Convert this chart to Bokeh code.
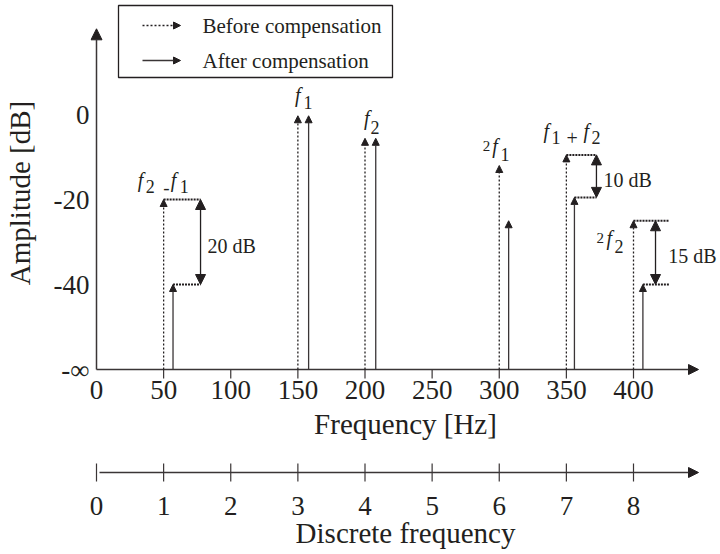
from bokeh.plotting import figure
from bokeh.models import Range1d, FixedTicker, Arrow, NormalHead, ColumnDataSource
from bokeh.layouts import column
from bokeh.embed import file_html
from bokeh.resources import INLINE
from bokeh.core.properties import value

# ---------------- data ----------------
before_freq = [50, 150, 200, 300, 350, 400]
before_db = [-20, -0.3, -5.6, -12, -9.5, -25]
after_freq = [57, 158, 208, 307, 356, 407]
after_db = [-40, -0.3, -5.6, -25, -19.5, -40]

freq_ticks = [0, 50, 100, 150, 200, 250, 300, 350, 400]
disc_ticks = [0, 1, 2, 3, 4, 5, 6, 7, 8]
amp_ticks = [-60, -40, -20, 0]
amp_tick_labels = ["-\u221e", "-40", "-20", "0"]

gap_index = [0, 4, 5]            # which peaks get a level-difference bracket
gap_labels = ["20 dB", "10 dB", "15 dB"]
gap_arrow_x = [77.5, 372.4, 416.4]
gap_line_end = [77.5, 372.4, 426.7]

legend_labels = ["Before compensation", "After compensation"]

# ---------------- geometry / style ----------------
FONT_NAME = "Liberation Serif"
FONT = value(FONT_NAME)
INK = "#231f20"
AXIS = "#3a3536"
PX_HZ = 1.3425   # px per Hz
PX_DB = 4.25     # px per dB
X0, YINF = 96.0, 369.0   # screen px of 0 Hz and of -inf (=-60 dB)
FLOOR = -60
LEFT, RIGHT = 90, 720    # frame edges (px)
TOP, BOTTOM = 0, 385


def hz(px):
    return (px - X0) / PX_HZ


def db(py):
    return (YINF - py) / PX_DB + FLOOR


def style_axis(ax, label, standoff, title_standoff):
    ax.axis_line_color = None
    ax.major_tick_line_color = None
    ax.minor_tick_line_color = None
    ax.major_tick_in = 0
    ax.major_tick_out = 0
    ax.minor_tick_in = 0
    ax.minor_tick_out = 0
    ax.major_label_standoff = standoff
    ax.major_label_text_font = FONT_NAME
    ax.major_label_text_font_size = "27px"
    ax.major_label_text_color = INK
    ax.axis_label = label
    ax.axis_label_text_font = FONT_NAME
    ax.axis_label_text_font_size = "29px"
    ax.axis_label_text_font_style = "normal"
    ax.axis_label_text_color = INK
    ax.axis_label_standoff = title_standoff


W = 720
H1 = 446
p = figure(width=W, height=H1, output_backend="svg", toolbar_location=None,
           x_range=Range1d(hz(LEFT), hz(RIGHT)), y_range=Range1d(db(BOTTOM), db(TOP)),
           min_border_left=LEFT, min_border_right=W - RIGHT, min_border_top=TOP,
           min_border_bottom=H1 - BOTTOM)
p.outline_line_color = None
p.xgrid.visible = False
p.ygrid.visible = False

xa = p.xaxis[0]
xa.ticker = FixedTicker(ticks=freq_ticks)
style_axis(xa, "Frequency [Hz]", 380 - BOTTOM, 6)

ya = p.yaxis[0]
ya.ticker = FixedTicker(ticks=amp_ticks)
ya.major_label_overrides = {t: l for t, l in zip(amp_ticks, amp_tick_labels)}
style_axis(ya, "Amplitude [dB]", 1, 15)

# axis lines with arrow heads
p.add_layout(Arrow(x_start=0, y_start=FLOOR, x_end=0, y_end=db(28.3),
                   line_color=AXIS, line_width=1.5,
                   end=NormalHead(size=11, fill_color=INK, line_color=INK, line_width=1)))
p.add_layout(Arrow(x_start=0, y_start=FLOOR, x_end=hz(698), y_end=FLOOR,
                   line_color=AXIS, line_width=1.5,
                   end=NormalHead(size=10, fill_color=INK, line_color=INK, line_width=1)))
tick_src = ColumnDataSource(dict(x=freq_ticks[1:]))
p.segment(x0="x", x1="x", y0=FLOOR, y1=db(378), source=tick_src, line_color=AXIS, line_width=1.2)

# spectral lines
n = len(before_freq)
src_b = ColumnDataSource(dict(x=before_freq, y0=[FLOOR] * n, y1=before_db))
src_a = ColumnDataSource(dict(x=after_freq, y0=[FLOOR] * n, y1=after_db))
p.add_layout(Arrow(x_start="x", y_start="y0", x_end="x", y_end="y1", source=src_b,
                   line_color=INK, line_width=1.3, line_dash="2 2",
                   end=NormalHead(size=7, fill_color=INK, line_color=INK, line_width=1)))
p.add_layout(Arrow(x_start="x", y_start="y0", x_end="x", y_end="y1", source=src_a,
                   line_color=AXIS, line_width=1.3,
                   end=NormalHead(size=7, fill_color=INK, line_color=INK, line_width=1)))

# level-difference brackets
g_top = [before_db[i] for i in gap_index]
g_bot = [after_db[i] for i in gap_index]
g_xb = [before_freq[i] for i in gap_index]
g_xa = [after_freq[i] for i in gap_index]
gsrc = ColumnDataSource(dict(xb=g_xb, xa=g_xa, top=g_top, bot=g_bot, xe=gap_line_end, xr=gap_arrow_x))
p.segment(x0="xb", x1="xe", y0="top", y1="top", source=gsrc, line_color=INK, line_width=2, line_dash="2 1")
p.segment(x0="xa", x1="xe", y0="bot", y1="bot", source=gsrc, line_color=INK, line_width=2, line_dash="2 1")
p.add_layout(Arrow(x_start="xr", y_start="top", x_end="xr", y_end="bot", source=gsrc,
                   line_color=INK, line_width=1.3,
                   start=NormalHead(size=10, fill_color=INK, line_color=INK, line_width=1),
                   end=NormalHead(size=10, fill_color=INK, line_color=INK, line_width=1)))
gap_text_dx = [7, 7, -1]
for k in range(len(gap_index)):
    mid_px = YINF - (((g_top[k] + g_bot[k]) / 2) - FLOOR) * PX_DB
    p.text(x=[gap_line_end[k] + gap_text_dx[k] / PX_HZ], y=[db(mid_px + 3.5)], text=[gap_labels[k]],
           text_font=FONT, text_font_size="20px", text_color=INK,
           text_align="left", text_baseline="alphabetic")

# peak labels (italic f with subscripts); offsets in px from the "before" arrow tip
LIFT = -5
label_pieces = [
    (0, "f", -26, -14.5, "italic", 20), (0, "2", -18, -8, "normal", 18), (0, "-", -0.5, -7, "normal", 19),
    (0, "f", 7, -14.5, "italic", 20), (0, "1", 16, -8, "normal", 18),
    (1, "f", -3, -15.3, "italic", 20), (1, "1", 5.6, -8.3, "normal", 18),
    (2, "f", -1, -15, "italic", 20), (2, "2", 5.5, -5.5, "normal", 18),
    (3, "2", -16.5, -15, "normal", 15), (3, "f", -7, -15, "italic", 20), (3, "1", 1.2, -6, "normal", 18),
    (4, "f", -23, -18.5, "italic", 20), (4, "1", -15, -12, "normal", 18), (4, "+", 0, -12, "normal", 20),
    (4, "f", 17, -18.5, "italic", 20), (4, "2", 25, -12, "normal", 18),
    (5, "2", -37, 22.5, "normal", 15), (5, "f", -27, 22.5, "italic", 20), (5, "2", -19, 31, "normal", 18),
]
for i, t, dx, dy, style, size in label_pieces:
    p.text(x=[before_freq[i] + dx / PX_HZ], y=[before_db[i] - (dy + LIFT) / PX_DB], text=[t],
           text_font=FONT, text_font_size=f"{size}px", text_font_style=style, text_color=INK,
           text_align="left", text_baseline="alphabetic")

# legend box
p.quad(left=[hz(118)], right=[hz(392)], top=[db(5)], bottom=[db(77)],
       fill_color="white", line_color=INK, line_width=1.3)
for k, (py, dash, col) in enumerate([(25, "2 2", INK), (60, "solid", AXIS)]):
    p.add_layout(Arrow(x_start=hz(142), y_start=db(py), x_end=hz(180), y_end=db(py),
                       line_color=col, line_width=1.3, line_dash=dash,
                       end=NormalHead(size=7, fill_color=INK, line_color=INK, line_width=1)))
    p.text(x=[hz(202)], y=[db(py)], text=[legend_labels[k]], text_font=FONT, text_font_size="21px",
           text_color=INK, text_align="left", text_baseline="middle")

# ---------------- discrete-frequency axis ----------------
H2 = 554 - H1
q = figure(width=W, height=H2, output_backend="svg", toolbar_location=None,
           x_range=Range1d(hz(LEFT) / 50, hz(RIGHT) / 50), y_range=Range1d(-1, 1),
           y_axis_location=None,
           min_border_left=LEFT, min_border_right=W - RIGHT, min_border_top=8, min_border_bottom=H2 - 44)
q.outline_line_color = None
q.xgrid.visible = False
q.ygrid.visible = False
qa = q.xaxis[0]
qa.ticker = FixedTicker(ticks=disc_ticks)
style_axis(qa, "Discrete frequency", 6, -1)
q.add_layout(Arrow(x_start=hz(99) / 50, y_start=0, x_end=hz(698) / 50, y_end=0,
                   line_color=AXIS, line_width=1.5,
                   end=NormalHead(size=10, fill_color=INK, line_color=INK, line_width=1)))
dsrc = ColumnDataSource(dict(x=disc_ticks))
q.segment(x0="x", x1="x", y0=-0.5, y1=0.5, source=dsrc, line_color=AXIS, line_width=1.2)

layout = column(p, q)
open("out.html", "w").write(file_html(layout, INLINE))
